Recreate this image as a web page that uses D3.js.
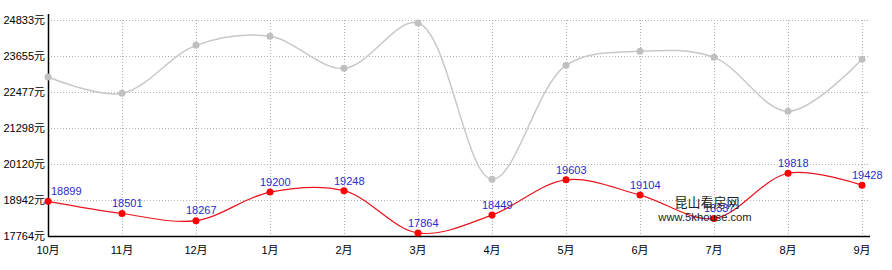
<!DOCTYPE html>
<html>
<head>
<meta charset="utf-8">
<script src="https://cdn.jsdelivr.net/npm/d3@7"></script>
<style>
  body { margin: 0; background: #fff; }
  text { font-family: "Liberation Sans", Arial, "Noto Sans CJK SC", sans-serif; }
</style>
</head>
<body>
<div id="chart"></div>
<script>
// months on the x axis
var months = ['10月', '11月', '12月', '1月', '2月', '3月', '4月', '5月', '6月', '7月', '8月', '9月'];
// red series (labelled)
var priceValues = [18899, 18501, 18267, 19200, 19248, 17864, 18449, 19603, 19104, 18337, 19818, 19428];
// grey series (no labels)
var otherValues = [22968, 22433, 24004, 24299, 23251, 24733, 19618, 23349, 23807, 23611, 21844, 23546];
// y tick labels
var yTicks = [17764, 18942, 20120, 21298, 22477, 23655, 24833];

var width = 892, height = 270;
// note: "top" is reserved on window, so use other names
var plotLeft = 48, plotRight = 862, plotTop = 20, plotBottom = 236, gridRight = 870;

var svg = d3.select('#chart').append('svg')
  .attr('width', width)
  .attr('height', height);

var x = d3.scalePoint().domain(months).range([plotLeft, plotRight]);
var y = d3.scaleLinear().domain([yTicks[0], yTicks[yTicks.length - 1]]).range([plotBottom, plotTop]);

// grid - horizontal
svg.append('g').selectAll('line')
  .data(yTicks.slice(1))
  .enter().append('line')
  .attr('x1', plotLeft).attr('x2', gridRight)
  .attr('y1', function(d){ return Math.round(y(d)) + 0.5 })
  .attr('y2', function(d){ return Math.round(y(d)) + 0.5 })
  .attr('stroke', '#b0b0b0')
  .attr('stroke-dasharray', '1,2')

// grid - vertical
svg.append('g').selectAll('line')
  .data(months.slice(1))
  .enter().append('line')
  .attr('x1', function(d){ return Math.round(x(d)) + 0.5 })
  .attr('x2', function(d){ return Math.round(x(d)) + 0.5 })
  .attr('y1', plotTop).attr('y2', plotBottom)
  .attr('stroke', '#b0b0b0')
  .attr('stroke-dasharray', '1,2')

// axes lines
svg.append('line')
  .attr('x1', plotLeft + 0.5).attr('x2', plotLeft + 0.5)
  .attr('y1', 14).attr('y2', plotBottom + 1)
  .attr('stroke', '#000').attr('stroke-width', 1.5)
svg.append('line')
  .attr('x1', plotLeft).attr('x2', gridRight)
  .attr('y1', plotBottom + 0.5).attr('y2', plotBottom + 0.5)
  .attr('stroke', '#000').attr('stroke-width', 1.5)

// y labels
svg.append('g').selectAll('text')
  .data(yTicks)
  .enter().append('text')
  .attr('x', 45)
  .attr('y', function(d){ return y(d) })
  .attr('dy', '0.35em')
  .attr('text-anchor', 'end')
  .style('font-size', '11px')
  .attr('fill', '#000')
  .text(function(d){ return d + '元' })

// x labels
svg.append('g').selectAll('text')
  .data(months)
  .enter().append('text')
  .attr('x', function(d){ return x(d) })
  .attr('y', 250)
  .attr('dy', '0.35em')
  .attr('text-anchor', 'middle')
  .style('font-size', '11px')
  .attr('fill', '#000')
  .text(function(d){ return d })

var line = d3.line()
  .x(function(d, i){ return x(months[i]) })
  .y(function(d){ return y(d) })
  .curve(d3.curveCatmullRom.alpha(0.5))

// grey series
svg.append('path')
  .datum(otherValues)
  .attr('d', line)
  .attr('fill', 'none')
  .attr('stroke', '#c8c8c8')
  .attr('stroke-width', 1.5)
svg.append('g').selectAll('circle')
  .data(otherValues)
  .enter().append('circle')
  .attr('cx', function(d, i){ return x(months[i]) })
  .attr('cy', function(d){ return y(d) })
  .attr('r', 3.5)
  .attr('fill', '#c0c0c0')

// red series
svg.append('path')
  .datum(priceValues)
  .attr('d', line)
  .attr('fill', 'none')
  .attr('stroke', '#e8141e')
  .attr('stroke-width', 1.2)
svg.append('g').selectAll('circle')
  .data(priceValues)
  .enter().append('circle')
  .attr('cx', function(d, i){ return x(months[i]) })
  .attr('cy', function(d){ return y(d) })
  .attr('r', 3.5)
  .attr('fill', '#ff0000')

// value labels
svg.append('g').selectAll('text')
  .data(priceValues)
  .enter().append('text')
  .attr('x', function(d, i){ return Math.max(x(months[i]) - 10, plotLeft + 3) })
  .attr('y', function(d){ return y(d) - 10 })
  .attr('dy', '0.35em')
  .style('font-size', '11px')
  .attr('fill', '#2a2ad0')
  .text(function(d){ return d })

// watermark (sits on top of the 7月 label, as in the original)
svg.append('text')
  .attr('x', 707).attr('y', 202)
  .attr('dy', '0.35em')
  .attr('text-anchor', 'middle')
  .style('font-size', '13px')
  .style('font-family', '"Noto Sans CJK SC", sans-serif')
  .attr('fill', '#222')
  .text('昆山看房网')
svg.append('text')
  .attr('x', 705).attr('y', 217)
  .attr('dy', '0.35em')
  .attr('text-anchor', 'middle')
  .style('font-size', '11.2px')
  .attr('fill', '#222')
  .text('www.5khouse.com')
</script>
</body>
</html>
